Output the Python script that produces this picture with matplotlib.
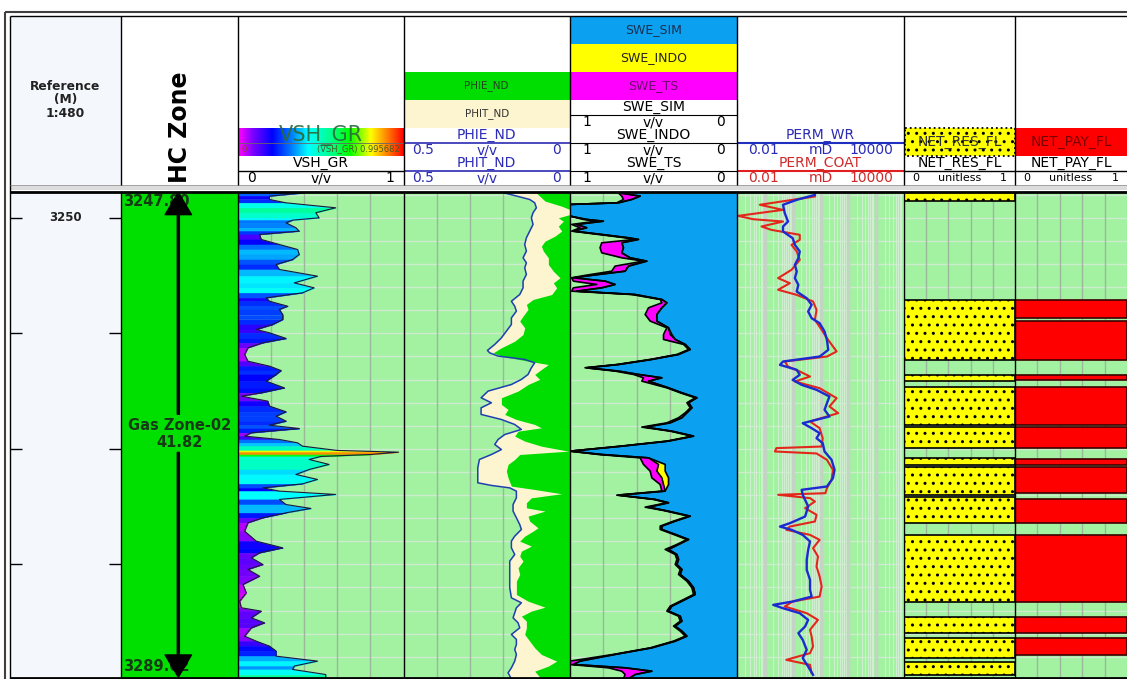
import numpy as np
import matplotlib
matplotlib.use('Agg')
import matplotlib.pyplot as plt
from matplotlib.colors import LinearSegmentedColormap
from matplotlib.patches import Rectangle

plt.rcParams['font.family'] = ['DejaVu Sans']
plt.rcParams['hatch.color'] = 'black'

# ---- zone ----
zone_top = 3247.80
zone_bot = 3289.62
zone_name = 'Gas Zone-02'
depth_ticks = [3250, 3260, 3270, 3280]

# ---- VSH_GR (v/v) ----
vsh_depth = [3247.85, 3248.12, 3248.41, 3248.70, 3249.13, 3249.56, 3250.00, 3250.20, 3250.43, 3250.86,
             3251.15, 3251.44, 3251.87, 3252.31, 3252.74, 3253.17, 3253.61, 3254.04, 3254.47, 3255.05,
             3255.63, 3256.06, 3256.49, 3256.93, 3257.22, 3257.65, 3257.93, 3258.37, 3258.80, 3259.23,
             3259.67, 3259.95, 3260.44, 3260.82, 3261.25, 3261.83, 3262.41, 3262.84, 3263.22, 3263.56,
             3264.14, 3264.72, 3265.15, 3265.44, 3265.87, 3266.30, 3266.79, 3267.17, 3267.60, 3267.95,
             3268.24, 3268.61, 3268.90, 3269.19, 3269.48, 3269.77, 3270.14, 3270.29, 3270.49, 3270.66,
             3270.92, 3271.35, 3271.79, 3272.22, 3272.65, 3273.03, 3273.38, 3273.66, 3273.95, 3274.38,
             3274.82, 3275.16, 3275.54, 3275.97, 3276.40, 3277.13, 3277.99, 3278.57, 3279.00, 3279.43,
             3280.01, 3280.44, 3281.02, 3281.74, 3282.47, 3283.19, 3283.76, 3284.05, 3284.63, 3285.06,
             3285.50, 3286.22, 3286.65, 3287.08, 3287.51, 3287.95, 3288.38, 3288.81, 3289.10, 3289.54,
             3289.93]
vsh_gr = [0.39, 0.19, 0.19, 0.29, 0.59, 0.47, 0.49, 0.33, 0.29, 0.35,
          0.37, 0.13, 0.14, 0.25, 0.36, 0.37, 0.33, 0.23, 0.25, 0.48,
          0.34, 0.46, 0.39, 0.17, 0.19, 0.30, 0.25, 0.27, 0.27, 0.21,
          0.11, 0.19, 0.29, 0.15, 0.06, 0.04, 0.06, 0.19, 0.26, 0.23,
          0.17, 0.28, 0.14, 0.02, 0.18, 0.19, 0.29, 0.23, 0.29, 0.19,
          0.37, 0.08, 0.04, 0.25, 0.36, 0.39, 0.60, 0.97, 0.80, 0.50,
          0.43, 0.55, 0.43, 0.35, 0.48, 0.39, 0.15, 0.25, 0.59, 0.25,
          0.29, 0.44, 0.29, 0.15, 0.06, 0.04, 0.11, 0.27, 0.13, 0.08,
          0.15, 0.06, 0.13, 0.03, 0.05, 0.01, 0.02, 0.14, 0.08, 0.16,
          0.08, 0.04, 0.11, 0.19, 0.23, 0.23, 0.48, 0.34, 0.33, 0.53,
          0.53]
vsh_max = 0.995682

# ---- porosity (v/v) ----
phit_depth = [3247.85, 3248.41, 3248.70, 3249.13, 3249.56, 3250.00, 3250.57, 3251.15, 3251.73, 3252.31,
              3252.88, 3253.46, 3253.89, 3254.33, 3254.90, 3255.48, 3256.06, 3256.64, 3257.22, 3257.65,
              3258.08, 3258.66, 3259.23, 3259.81, 3260.39, 3260.96, 3261.48, 3261.69, 3261.97, 3262.26,
              3262.55, 3262.98, 3263.56, 3263.99, 3264.43, 3265.00, 3265.58, 3266.01, 3266.45, 3267.02,
              3267.46, 3267.89, 3268.32, 3268.76, 3269.19, 3269.62, 3270.06, 3270.49, 3270.92, 3271.64,
              3272.36, 3272.94, 3273.17, 3273.38, 3273.66, 3274.24, 3274.82, 3275.39, 3275.97, 3276.55,
              3276.98, 3277.56, 3277.99, 3278.57, 3279.15, 3279.72, 3280.88, 3282.03, 3282.90, 3283.33,
              3283.76, 3284.20, 3284.63, 3285.06, 3285.50, 3286.07, 3286.50, 3286.94, 3287.37, 3287.80,
              3288.38, 3288.96, 3289.39, 3289.93]
phit_nd = [0.196, 0.121, 0.106, 0.101, 0.111, 0.116, 0.111, 0.121, 0.131, 0.136,
           0.131, 0.141, 0.131, 0.136, 0.131, 0.141, 0.141, 0.151, 0.176, 0.166,
           0.161, 0.176, 0.176, 0.191, 0.206, 0.226, 0.248, 0.241, 0.216, 0.136,
           0.106, 0.116, 0.126, 0.146, 0.176, 0.246, 0.267, 0.236, 0.267, 0.267,
           0.206, 0.166, 0.146, 0.196, 0.216, 0.226, 0.206, 0.236, 0.272, 0.277,
           0.277, 0.277, 0.236, 0.181, 0.161, 0.161, 0.171, 0.171, 0.161, 0.151,
           0.146, 0.166, 0.176, 0.176, 0.166, 0.181, 0.181, 0.181, 0.176, 0.146,
           0.161, 0.166, 0.171, 0.156, 0.151, 0.176, 0.161, 0.161, 0.166, 0.161,
           0.166, 0.176, 0.186, 0.176]

phie_depth = [3247.85, 3248.55, 3248.99, 3249.28, 3249.71, 3250.00, 3250.29, 3250.72, 3251.15, 3251.58,
              3252.02, 3252.45, 3252.88, 3253.46, 3254.04, 3254.62, 3255.19, 3255.63, 3256.06, 3256.64,
              3257.07, 3257.50, 3257.93, 3258.51, 3258.94, 3259.52, 3260.10, 3260.68, 3261.25, 3261.69,
              3261.97, 3262.41, 3262.70, 3263.13, 3263.56, 3263.99, 3264.43, 3265.00, 3265.58, 3266.16,
              3266.59, 3267.02, 3267.46, 3267.89, 3268.18, 3268.47, 3268.90, 3269.33, 3269.77, 3270.20,
              3270.49, 3270.92, 3271.35, 3271.93, 3272.51, 3273.23, 3273.52, 3273.89, 3274.24, 3274.67,
              3275.11, 3275.39, 3275.83, 3276.26, 3276.84, 3277.13, 3277.56, 3277.99, 3278.42, 3278.86,
              3279.29, 3279.72, 3280.30, 3280.88, 3281.46, 3282.61, 3283.19, 3283.71, 3284.05, 3284.49,
              3284.92, 3285.50, 3286.07, 3286.65, 3287.23, 3287.80, 3288.38, 3288.81, 3289.25, 3289.93]
phie_nd = [0.101, 0.075, 0.025, 0.000, 0.000, 0.035, 0.020, 0.035, 0.025, 0.045,
           0.075, 0.086, 0.080, 0.065, 0.065, 0.050, 0.030, 0.050, 0.040, 0.055,
           0.111, 0.131, 0.126, 0.141, 0.151, 0.136, 0.141, 0.166, 0.206, 0.231,
           0.206, 0.126, 0.065, 0.086, 0.106, 0.091, 0.126, 0.156, 0.206, 0.206,
           0.186, 0.196, 0.161, 0.106, 0.086, 0.156, 0.166, 0.136, 0.086, 0.005,
           0.151, 0.166, 0.186, 0.191, 0.186, 0.176, 0.106, 0.025, 0.116, 0.131,
           0.131, 0.075, 0.126, 0.121, 0.096, 0.111, 0.136, 0.151, 0.116, 0.146,
           0.151, 0.141, 0.156, 0.151, 0.161, 0.161, 0.126, 0.075, 0.116, 0.146,
           0.131, 0.131, 0.136, 0.121, 0.106, 0.086, 0.040, 0.065, 0.106, 0.086]

# ---- water saturation (v/v) ----
swe_depth = [3247.85, 3248.12, 3248.41, 3248.70, 3248.84, 3249.85, 3250.14, 3250.29, 3250.57, 3250.86,
             3251.15, 3251.44, 3251.73, 3251.87, 3252.16, 3252.59, 3253.03, 3253.46, 3253.75, 3254.18,
             3254.62, 3254.96, 3255.19, 3255.48, 3255.77, 3256.06, 3256.35, 3256.64, 3257.07, 3257.36,
             3257.79, 3258.37, 3258.94, 3259.52, 3260.10, 3260.53, 3260.96, 3261.40, 3261.83, 3262.26,
             3262.70, 3262.98, 3263.27, 3263.56, 3263.85, 3264.14, 3264.72, 3265.15, 3265.58, 3266.01,
             3266.45, 3266.88, 3267.31, 3267.75, 3268.12, 3268.47, 3268.90, 3269.33, 3269.77, 3270.20,
             3270.49, 3270.78, 3271.35, 3271.93, 3272.51, 3273.09, 3273.66, 3274.01, 3274.38, 3274.67,
             3275.05, 3275.34, 3275.83, 3276.26, 3276.69, 3276.98, 3277.41, 3277.85, 3278.28, 3278.71,
             3279.15, 3279.58, 3280.01, 3280.44, 3280.88, 3281.46, 3282.03, 3282.61, 3283.19, 3283.62,
             3284.05, 3284.49, 3284.92, 3285.35, 3285.78, 3286.22, 3286.65, 3287.23, 3287.80, 3288.38,
             3288.67, 3288.96, 3289.25, 3289.54, 3289.93]
swe_sim = [0.70, 0.58, 0.63, 0.71, 1.00, 1.00, 0.90, 0.80, 0.96, 0.90,
           0.98, 0.81, 0.65, 0.59, 0.69, 0.68, 0.69, 0.64, 0.54, 0.65,
           0.67, 0.86, 0.98, 0.79, 0.73, 0.81, 0.96, 0.61, 0.45, 0.42,
           0.45, 0.48, 0.48, 0.41, 0.39, 0.37, 0.31, 0.28, 0.35, 0.51,
           0.71, 0.90, 0.71, 0.59, 0.45, 0.53, 0.41, 0.33, 0.24, 0.29,
           0.27, 0.30, 0.33, 0.40, 0.55, 0.39, 0.26, 0.41, 0.69, 1.00,
           0.81, 0.53, 0.43, 0.43, 0.41, 0.41, 0.43, 0.71, 0.49, 0.41,
           0.53, 0.43, 0.28, 0.37, 0.45, 0.45, 0.37, 0.29, 0.35, 0.41,
           0.36, 0.35, 0.36, 0.33, 0.34, 0.29, 0.26, 0.25, 0.33, 0.39,
           0.41, 0.34, 0.33, 0.37, 0.33, 0.30, 0.37, 0.51, 0.73, 0.94,
           0.98, 0.67, 0.51, 0.61, 0.65]
swe_indo = [0.70, 0.58, 0.63, 0.71, 1.00, 1.00, 0.90, 0.80, 0.96, 0.90,
            0.98, 0.81, 0.65, 0.59, 0.69, 0.68, 0.69, 0.64, 0.54, 0.65,
            0.67, 0.86, 0.98, 0.79, 0.73, 0.81, 0.96, 0.61, 0.45, 0.42,
            0.45, 0.48, 0.48, 0.41, 0.40, 0.37, 0.31, 0.28, 0.35, 0.51,
            0.71, 0.90, 0.71, 0.59, 0.45, 0.53, 0.41, 0.33, 0.24, 0.29,
            0.27, 0.30, 0.33, 0.40, 0.55, 0.39, 0.26, 0.41, 0.69, 1.00,
            0.81, 0.53, 0.47, 0.48, 0.45, 0.44, 0.43, 0.71, 0.49, 0.41,
            0.53, 0.43, 0.28, 0.37, 0.45, 0.45, 0.37, 0.29, 0.35, 0.41,
            0.36, 0.35, 0.36, 0.33, 0.34, 0.29, 0.26, 0.25, 0.33, 0.39,
            0.41, 0.34, 0.33, 0.37, 0.33, 0.30, 0.37, 0.51, 0.73, 0.94,
            0.98, 0.67, 0.51, 0.61, 0.65]
swe_ts = [0.71, 0.69, 0.68, 0.72, 1.00, 1.00, 0.92, 0.84, 0.99, 0.94,
          0.99, 0.83, 0.67, 0.61, 0.81, 0.82, 0.81, 0.69, 0.56, 0.73,
          0.75, 0.90, 0.99, 0.98, 0.84, 0.98, 0.99, 0.63, 0.46, 0.45,
          0.53, 0.55, 0.52, 0.42, 0.44, 0.44, 0.32, 0.29, 0.36, 0.52,
          0.72, 0.91, 0.73, 0.62, 0.56, 0.57, 0.42, 0.34, 0.25, 0.30,
          0.28, 0.31, 0.35, 0.42, 0.57, 0.40, 0.27, 0.42, 0.70, 1.00,
          0.83, 0.58, 0.56, 0.52, 0.51, 0.46, 0.45, 0.72, 0.50, 0.42,
          0.55, 0.44, 0.29, 0.38, 0.46, 0.46, 0.38, 0.30, 0.36, 0.43,
          0.37, 0.36, 0.37, 0.34, 0.35, 0.30, 0.27, 0.26, 0.34, 0.40,
          0.42, 0.35, 0.34, 0.38, 0.34, 0.31, 0.38, 0.52, 0.74, 1.00,
          1.00, 0.77, 0.69, 0.67, 0.68]

# ---- permeability (mD) ----
perm_wr_depth = [3248.01, 3248.44, 3248.87, 3249.60, 3250.32, 3250.75, 3251.18, 3251.76, 3252.34, 3252.91,
                 3253.49, 3254.07, 3254.65, 3255.22, 3255.80, 3256.38, 3256.96, 3257.53, 3258.11, 3258.69,
                 3259.12, 3259.84, 3260.56, 3261.43, 3262.01, 3262.44, 3262.73, 3263.16, 3263.59, 3264.03,
                 3264.46, 3264.89, 3265.47, 3266.05, 3266.62, 3267.20, 3267.78, 3268.21, 3268.64, 3269.08,
                 3269.51, 3270.23, 3270.95, 3271.82, 3272.54, 3273.26, 3273.55, 3273.98, 3274.42, 3274.99,
                 3275.86, 3276.44, 3276.73, 3277.01, 3277.45, 3278.02, 3278.75, 3279.61, 3280.48, 3281.34,
                 3282.21, 3282.79, 3283.22, 3283.51, 3283.80, 3284.23, 3284.81, 3285.38, 3285.96, 3286.54,
                 3287.40, 3288.12, 3288.85, 3289.57]
perm_wr = [6.3, 1.4, 0.45, 0.52, 0.68, 0.45, 0.45, 1.0, 1.2, 1.8,
           1.6, 1.2, 1.4, 1.2, 1.6, 1.4, 3.2, 4.8, 3.6, 4.8,
           9.3, 14, 17, 19, 9.3, 0.45, 0.35, 1.4, 1.8, 1.0,
           2.1, 7.2, 21, 17, 14, 21, 2.3, 4.8, 9.3, 7.2,
           12, 14, 25, 32, 28, 17, 2.1, 2.3, 2.8, 3.6,
           2.8, 0.79, 0.35, 0.91, 2.3, 4.2, 3.6, 3.2, 3.2, 4.2,
           4.2, 4.8, 1.0, 0.20, 0.45, 1.8, 3.6, 2.8, 1.6, 2.3,
           3.2, 2.3, 3.6, 5.4]

perm_coat_depth = [3248.15, 3248.87, 3249.31, 3249.83, 3250.12, 3250.32, 3250.75, 3251.04, 3251.47, 3251.90,
                   3252.34, 3252.91, 3253.64, 3254.50, 3255.22, 3255.66, 3256.23, 3256.67, 3257.24, 3257.97,
                   3258.83, 3259.70, 3260.42, 3261.57, 3262.01, 3262.44, 3262.87, 3263.30, 3263.74, 3264.17,
                   3264.75, 3265.61, 3266.33, 3266.91, 3267.63, 3268.21, 3269.08, 3269.80, 3269.94, 3270.23,
                   3270.40, 3270.95, 3271.82, 3272.68, 3273.41, 3273.84, 3273.98, 3274.27, 3274.56, 3275.14,
                   3275.71, 3276.29, 3276.73, 3277.01, 3277.45, 3277.88, 3278.60, 3279.32, 3280.19, 3281.05,
                   3281.92, 3282.79, 3283.22, 3283.65, 3284.23, 3284.81, 3285.67, 3286.25, 3287.11, 3287.69,
                   3288.27, 3288.70, 3289.42]
perm_coat = [6.3, 0.066, 0.45, 0.011, 0.038, 0.45, 0.076, 0.17, 1.8, 1.8,
             0.91, 1.4, 1.8, 0.91, 0.30, 0.79, 0.30, 1.4, 5.4, 7.2,
             6.3, 11, 17, 38, 17, 0.52, 0.68, 1.8, 4.2, 1.2,
             9.3, 38, 21, 43, 4.2, 9.3, 12, 11, 0.26, 0.23,
             7.2, 17, 28, 25, 17, 15, 0.30, 4.2, 6.3, 2.8,
             7.2, 6.3, 0.79, 0.59, 4.2, 9.3, 5.4, 8.1, 7.2, 9.3,
             11, 9.3, 1.0, 0.52, 3.2, 8.1, 4.2, 4.8, 5.4, 4.2,
             0.59, 4.2, 4.8]

# ---- flags ----
net_res_top = [3247.80, 3257.10, 3263.59, 3264.63, 3268.10, 3270.78, 3271.56, 3274.16, 3277.45, 3284.55, 3286.36, 3288.44]
net_res_bot = [3248.53, 3262.29, 3264.11, 3267.92, 3269.91, 3271.39, 3273.98, 3276.41, 3283.25, 3285.93, 3288.10, 3289.62]
net_pay_top = [3257.10, 3258.92, 3263.59, 3264.63, 3268.10, 3270.87, 3271.56, 3274.33, 3277.45, 3284.55, 3286.36]
net_pay_bot = [3258.66, 3262.29, 3264.03, 3267.92, 3269.91, 3271.39, 3273.81, 3276.41, 3283.25, 3285.93, 3287.84]

# ---- layout (pixels) ----
W, H = 1127, 679
DATA_TOP, DATA_BOT = 193, 679
PX_PER_M = 11.55
d_top = 3247.85
d_bot = d_top + (DATA_BOT - DATA_TOP) / PX_PER_M

edges = {'ref': (10, 121), 'hc': (121, 238), 'vsh': (238, 403.5), 'phi': (403.5, 570),
         'swe': (570, 737), 'perm': (737, 904), 'res': (904, 1015), 'pay': (1015, 1127)}

BG = '#a2f2a2'
GRID_V = '#9cb89c'
GRID_H = '#cdeccd'
GREEN = '#00dd00'
CREAM = '#fdf5cf'
SWE_BLUE = '#0ba0f0'
MAGENTA = '#ff00ff'
YELLOW = '#ffff00'
PBLUE = '#2b2bb5'
PRED = '#d02a2a'
DARKG = '#163a16'

vsh_cmap = LinearSegmentedColormap.from_list('vsh', [
    (0.0, '#ff00ff'), (0.08, '#8000ff'), (0.2, '#0000ff'), (0.32, '#0080ff'),
    (0.42, '#00ffff'), (0.57, '#00ff80'), (0.67, '#00ff00'), (0.8, '#ffff00'),
    (0.9, '#ff8000'), (1.0, '#ff0000')])

fig = plt.figure(figsize=(W / 100, H / 100), dpi=100)


def track(key, fc=BG):
    x0, x1 = edges[key]
    ax = fig.add_axes([x0 / W, 1 - DATA_BOT / H, (x1 - x0) / W, (DATA_BOT - DATA_TOP) / H])
    ax.set_facecolor(fc)
    ax.set_ylim(d_bot, d_top)
    for s in ax.spines.values():
        s.set_visible(False)
    return ax


def hide_ticks(ax):
    ax.tick_params(which='both', left=False, right=False, bottom=False, top=False,
                   labelleft=False, labelbottom=False)


def grid(ax, xs):
    for d in np.arange(3248, 3290, 2):
        ax.axhline(d, color=GRID_H, lw=1, zorder=0.5)
    for x in xs:
        ax.axvline(x, color=GRID_V, lw=1, zorder=0.6)


# reference (depth) track
ax = track('ref', fc='#f4f8fd')
ax.set_xlim(0, 1)
ax.set_yticks(depth_ticks)
ax.tick_params(axis='y', direction='in', length=8.6, width=1, left=True, right=True,
               labelleft=False)
ax.tick_params(axis='x', bottom=False, labelbottom=False)
ax.text(0.5, depth_ticks[0], str(depth_ticks[0]), ha='center', va='center',
        fontsize=8.5, fontweight='bold', color='#222222')

# HC zone track
ax = track('hc', fc='white')
ax.set_xlim(0, 1)
hide_ticks(ax)
ax.add_patch(Rectangle((0, zone_top), 1, zone_bot - zone_top, facecolor='#00e000',
                       edgecolor='none', zorder=1))
ax.axhspan(zone_bot, d_bot, color='#00e000', zorder=0.9)
mid = (zone_top + zone_bot) / 2
ax.text(0.02, zone_top + 0.75, f'{zone_top:.2f}', ha='left', va='center', fontsize=10.5,
        fontweight='bold', color=DARKG, zorder=3)
ax.text(0.02, zone_bot - 0.75, f'{zone_bot:.2f}', ha='left', va='center', fontsize=10.5,
        fontweight='bold', color=DARKG, zorder=3)
ax.text(0.5, mid, f'{zone_name}\n{zone_bot - zone_top:.2f}', ha='center', va='center',
        fontsize=10.5, fontweight='bold', color=DARKG, linespacing=1.2, zorder=3)
arrow = dict(facecolor='black', edgecolor='black', width=1.5, headwidth=19, headlength=16, shrink=0)
ax.annotate('', xy=(0.49, zone_top), xytext=(0.49, mid - 1.7),
            xycoords=('axes fraction', 'data'), textcoords=('axes fraction', 'data'),
            arrowprops=arrow, zorder=5)
ax.annotate('', xy=(0.49, zone_bot + 0.15), xytext=(0.49, mid + 1.6),
            xycoords=('axes fraction', 'data'), textcoords=('axes fraction', 'data'),
            arrowprops=arrow, zorder=5)

# VSH track
ax = track('vsh')
ax.set_xlim(0, 1)
hide_ticks(ax)
grid(ax, [0.2, 0.4, 0.6, 0.8])
for i in range(len(vsh_depth) - 1):
    v0, v1 = vsh_gr[i], vsh_gr[i + 1]
    c = vsh_cmap((v0 + v1) / 2 / vsh_max)
    ax.fill_betweenx([vsh_depth[i], vsh_depth[i + 1]], 0, [v0, v1], facecolor=c,
                     edgecolor=c, lw=0.4, zorder=1)
ax.plot(vsh_gr, vsh_depth, color='#1a1a3a', lw=0.8, zorder=3)

# porosity track
ax = track('phi')
ax.set_xlim(0.5, 0)
hide_ticks(ax)
grid(ax, [0.4, 0.3, 0.2, 0.1])
ax.fill_betweenx(phit_depth, phit_nd, 0, color=CREAM, lw=0, zorder=1)
ax.fill_betweenx(phie_depth, phie_nd, 0, color=GREEN, lw=0, zorder=1.1)
ax.plot(phit_nd, phit_depth, color='#2040b0', lw=1.1, zorder=3)

# saturation track
ax = track('swe')
ax.set_xlim(1, 0)
hide_ticks(ax)
grid(ax, [0.8, 0.6, 0.4, 0.2])
ax.fill_betweenx(swe_depth, swe_ts, 0, color=MAGENTA, lw=0, zorder=1)
ax.fill_betweenx(swe_depth, swe_indo, 0, color=YELLOW, lw=0, zorder=1.1)
ax.fill_betweenx(swe_depth, swe_sim, 0, color=SWE_BLUE, lw=0, zorder=1.2)
for curve in (swe_ts, swe_indo, swe_sim):
    ax.plot(curve, swe_depth, color='black', lw=1.2, zorder=3)

# permeability track
ax = track('perm')
ax.set_xscale('log')
ax.set_xlim(0.01, 10000)
hide_ticks(ax)
for d in np.arange(3248, 3290, 2):
    ax.axhline(d, color=GRID_H, lw=1, zorder=0.5)
for dec in 10.0 ** np.arange(-2, 4):
    for k in range(2, 10):
        ax.axvline(dec * k, color='#d2eed2', lw=0.7, zorder=0.6)
for dec in 10.0 ** np.arange(-1, 4):
    ax.axvline(dec, color='#c4d4c4', lw=2.5, zorder=0.7)
ax.plot(perm_coat, perm_coat_depth, color='#e3261b', lw=1.5, zorder=3)
ax.plot(perm_wr, perm_wr_depth, color='#1b2bd0', lw=1.7, zorder=4)

# net reservoir flag
ax = track('res')
ax.set_xlim(0, 1)
hide_ticks(ax)
grid(ax, [0.2, 0.4, 0.6, 0.8])
for t, b in zip(net_res_top, net_res_bot):
    ax.add_patch(Rectangle((0, t), 1, b - t, facecolor=YELLOW, edgecolor='black',
                           hatch='..', lw=1.2, zorder=2))

# net pay flag
ax = track('pay')
ax.set_xlim(0, 1)
hide_ticks(ax)
grid(ax, [0.2, 0.4, 0.6, 0.8])
for t, b in zip(net_pay_top, net_pay_bot):
    ax.add_patch(Rectangle((0, t), 1, b - t, facecolor='#ff0000', edgecolor='#3a0000',
                           lw=1.2, zorder=2))

# ---- header / frame overlay in pixel coords ----
hdr = fig.add_axes([0, 0, 1, 1], zorder=10)
hdr.patch.set_visible(False)


def box(x0, y0, x1, y1, fc, **kw):
    hdr.add_patch(Rectangle((x0, y0), x1 - x0, y1 - y0, facecolor=fc, **kw))


def hline(x0, x1, y, c='black', lw=1.0):
    hdr.plot([x0, x1], [y, y], color=c, lw=lw, solid_capstyle='butt')


def vline(x, y0, y1, c='black', lw=1.0):
    hdr.plot([x, x], [y0, y1], color=c, lw=lw, solid_capstyle='butt')


def txt(x, y, s, size=10, c='black', ha='center', **kw):
    hdr.text(x, y, s, fontsize=size, color=c, ha=ha, va='center', **kw)


def scale_row(key, y, left, unit, right, c='black', size=10, pad=9):
    x0, x1 = edges[key]
    txt(x0 + pad, y, left, size, c, ha='left')
    txt((x0 + x1) / 2, y, unit, size, c)
    txt(x1 - pad, y, right, size, c, ha='right')


box(10, 16, 121, 185, '#f4f8fd', edgecolor='none')
txt(65.5, 100, 'Reference\n(M)\n1:480', 8.8, '#222222', fontweight='bold', linespacing=1.05)
txt(180, 127, 'HC Zone', 17, 'black', rotation=90, fontweight='bold')

# VSH header
hdr.imshow(np.linspace(0, 1, 256).reshape(1, -1), cmap=vsh_cmap, aspect='auto',
           extent=(238.5, 403, 156, 128), zorder=1)
hline(238, 403.5, 143, '#666666', 0.6)
txt(321, 136, 'VSH_GR', 15, '#2a6a3a', alpha=0.9)
txt(242, 149, '0', 6, '#8a4a10', ha='left')
txt(400, 149, '(VSH_GR) 0.995682', 6, '#4a5a20', ha='right')
txt(321, 163, 'VSH_GR')
hline(238, 403.5, 171)
scale_row('vsh', 178, '0', 'v/v', '1')

# porosity header
box(403.5, 72, 570, 100, GREEN, edgecolor='none')
txt(486.7, 86, 'PHIE_ND', 7.5, '#224422')
box(403.5, 100, 570, 128, CREAM, edgecolor='none')
txt(486.7, 114, 'PHIT_ND', 7.5, '#333333')
txt(486.7, 135, 'PHIE_ND', 10, PBLUE)
hline(403.5, 570, 143, PBLUE, 1.2)
scale_row('phi', 150, '0.5', 'v/v', '0', PBLUE)
txt(486.7, 163, 'PHIT_ND', 10, PBLUE)
hline(403.5, 570, 171, PBLUE, 1.2)
scale_row('phi', 178, '0.5', 'v/v', '0', PBLUE)

# saturation header
box(570, 16, 737, 43.5, SWE_BLUE, edgecolor='none')
txt(653.5, 30, 'SWE_SIM', 9, '#1a3050')
box(570, 43.5, 737, 71.5, YELLOW, edgecolor='none')
txt(653.5, 57.5, 'SWE_INDO', 9, '#222222')
box(570, 71.5, 737, 100, MAGENTA, edgecolor='none')
txt(653.5, 86, 'SWE_TS', 9, '#6a0a6a')
for yname, yline, name in ((107, 115, 'SWE_SIM'), (135, 143, 'SWE_INDO'), (163, 171, 'SWE_TS')):
    txt(653.5, yname, name)
    hline(570, 737, yline, 'black', 0.8)
    scale_row('swe', yline + 7, '1', 'v/v', '0', pad=12)

# permeability header
txt(820.5, 135, 'PERM_WR', 10, PBLUE)
hline(737, 904, 143, '#1f2fc0', 1.5)
scale_row('perm', 150, '0.01', 'mD', '10000', PBLUE, pad=11)
txt(820.5, 163, 'PERM_COAT', 10, PRED)
hline(737, 904, 171, '#e02020', 1.5)
scale_row('perm', 178, '0.01', 'mD', '10000', PRED, pad=11)

# net flag headers
box(904.5, 128, 1015, 156, YELLOW, edgecolor='black', hatch='..', lw=1.3, linestyle=':')
txt(959.5, 142, 'NET_RES_FL', 10, '#333333')
txt(959.5, 163, 'NET_RES_FL')
hline(904, 1015, 171)
scale_row('res', 178, '0', 'unitless', '1', size=8, pad=8)
box(1015, 128, 1127, 156, '#ff0000', edgecolor='none')
txt(1071, 142, 'NET_PAY_FL', 10, '#7a0000')
txt(1071, 163, 'NET_PAY_FL')
hline(1015, 1127, 171)
scale_row('pay', 178, '0', 'unitless', '1', size=8, pad=8)

# frame lines
hline(5, W, 12, '#404040', 1.5)
hline(10, W, 16, 'black', 1.0)
vline(5, 12, H, '#404040', 1.5)
vline(10, 16, H, 'black', 1.0)
box(10, 184.5, W, 190, '#dcdcdc', edgecolor='none')
hline(10, W, 184.5, '#999999', 0.6)
hline(10, W, 192, 'black', 2.0)
for key in ('hc', 'vsh', 'phi', 'swe', 'perm', 'res', 'pay'):
    x = edges[key][0]
    vline(x, 16, 184.5)
    vline(x, 192, H)
hline(10, W, H - 1, 'black', 2.0)

hdr.set_xlim(0, W)
hdr.set_ylim(H, 0)
hdr.axis('off')

fig.savefig('out.png', dpi=100)
